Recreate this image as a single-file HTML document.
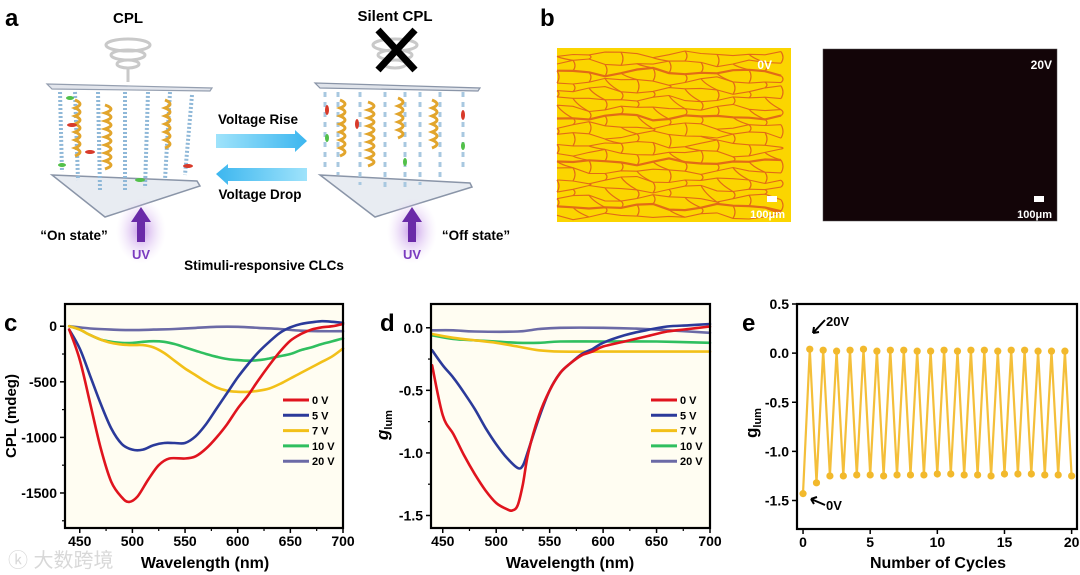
<!DOCTYPE html>
<html><head><meta charset="utf-8">
<style>
html,body{margin:0;padding:0;background:#fff;}
svg{display:block;font-family:"Liberation Sans","Noto Sans CJK SC",sans-serif;}
.b{font-weight:bold;}
</style></head>
<body>
<svg id="fig" width="1080" height="575" viewBox="0 0 1080 575" xmlns="http://www.w3.org/2000/svg">
<defs>
<radialGradient id="uvglow" cx="50%" cy="50%" r="50%">
<stop offset="0%" stop-color="#b57be0" stop-opacity="0.8"/>
<stop offset="100%" stop-color="#e9d6f7" stop-opacity="0"/>
</radialGradient>
<linearGradient id="arr" x1="0" x2="1"><stop offset="0" stop-color="#9fe3fb"/><stop offset="1" stop-color="#3cb6ef"/></linearGradient>
<linearGradient id="arr2" x1="1" x2="0"><stop offset="0" stop-color="#9fe3fb"/><stop offset="1" stop-color="#3cb6ef"/></linearGradient>
</defs>

<!-- Panel a -->
<g>
<text x="5" y="26" font-size="24" class="b">a</text>
<text x="128" y="23" font-size="15" class="b" text-anchor="middle">CPL</text>
<text x="395" y="21" font-size="15" class="b" text-anchor="middle">Silent CPL</text>
<g fill="none" stroke="#c9c9c9" stroke-width="3">
<ellipse cx="128" cy="45" rx="22" ry="6"/><ellipse cx="128" cy="55" rx="17" ry="5"/><ellipse cx="128" cy="64" rx="11" ry="4"/>
<path d="M128 68 L128 82"/>
<ellipse cx="395" cy="45" rx="22" ry="6"/><ellipse cx="395" cy="55" rx="17" ry="5"/><ellipse cx="395" cy="64" rx="11" ry="4"/>
</g>
<g stroke="#000" stroke-width="7">
<line x1="378" y1="30" x2="415" y2="70"/><line x1="415" y1="30" x2="378" y2="70"/>
</g>
<g>
<polygon points="52,175 197,181 200,186 105,217" fill="#e8ecf2" stroke="#8a95a8" stroke-width="1.5"/>
<g stroke="#8fb8d8" stroke-width="4" stroke-dasharray="2 2">
<line x1="60" y1="92" x2="62" y2="172"/><line x1="75" y1="92" x2="78" y2="180"/><line x1="98" y1="92" x2="100" y2="190"/>
<line x1="125" y1="92" x2="125" y2="192"/><line x1="148" y1="92" x2="145" y2="188"/><line x1="170" y1="92" x2="165" y2="180"/><line x1="192" y1="95" x2="185" y2="175"/>
</g>
<g stroke="#e2a52c" stroke-width="3" fill="none">
<path d="M75 100 q10 4 0 8 q10 4 0 8 q10 4 0 8 q10 4 0 8 q10 4 0 8 q10 4 0 8 q10 4 0 8"/>
<path d="M105 105 q12 4 0 8 q12 4 0 8 q12 4 0 8 q12 4 0 8 q12 4 0 8 q12 4 0 8 q12 4 0 8 q12 4 0 8"/>
<path d="M165 100 q10 4 0 8 q10 4 0 8 q10 4 0 8 q10 4 0 8 q10 4 0 8 q10 4 0 8"/>
</g>
<g fill="#d83a2a"><ellipse cx="72" cy="125" rx="5" ry="2"/><ellipse cx="90" cy="152" rx="5" ry="2"/><ellipse cx="188" cy="166" rx="5" ry="2"/></g>
<g fill="#52c04a"><ellipse cx="70" cy="98" rx="4" ry="2"/><ellipse cx="62" cy="165" rx="4" ry="2"/><ellipse cx="140" cy="180" rx="5" ry="2"/></g>
<polygon points="47,84 212,88 210,91 52,89" fill="#dfe3ea" stroke="#8a95a8" stroke-width="1.2" opacity="0.9"/>
</g>
<g>
<polygon points="320,175 470,183 472,187 375,217" fill="#e8ecf2" stroke="#8a95a8" stroke-width="1.5"/>
<g stroke="#a8c8e0" stroke-width="3" stroke-dasharray="5 5">
<line x1="325" y1="92" x2="325" y2="170"/><line x1="338" y1="92" x2="338" y2="175"/><line x1="360" y1="92" x2="360" y2="185"/>
<line x1="385" y1="92" x2="385" y2="190"/><line x1="405" y1="92" x2="405" y2="190"/><line x1="420" y1="92" x2="420" y2="185"/>
<line x1="440" y1="92" x2="440" y2="180"/><line x1="463" y1="92" x2="463" y2="172"/>
</g>
<g stroke="#e2a52c" stroke-width="3" fill="none">
<path d="M340 100 q10 4 0 8 q10 4 0 8 q10 4 0 8 q10 4 0 8 q10 4 0 8 q10 4 0 8 q10 4 0 8"/>
<path d="M368 102 q12 4 0 8 q12 4 0 8 q12 4 0 8 q12 4 0 8 q12 4 0 8 q12 4 0 8 q12 4 0 8 q12 4 0 8"/>
<path d="M398 98 q10 4 0 8 q10 4 0 8 q10 4 0 8 q10 4 0 8 q10 4 0 8"/>
<path d="M432 100 q10 4 0 8 q10 4 0 8 q10 4 0 8 q10 4 0 8 q10 4 0 8 q10 4 0 8"/>
</g>
<g fill="#d83a2a"><ellipse cx="327" cy="110" rx="2" ry="5"/><ellipse cx="357" cy="124" rx="2" ry="5"/><ellipse cx="463" cy="115" rx="2" ry="5"/></g>
<g fill="#52c04a"><ellipse cx="327" cy="138" rx="2" ry="4"/><ellipse cx="405" cy="162" rx="2" ry="4"/><ellipse cx="463" cy="146" rx="2" ry="4"/></g>
<polygon points="315,83 480,88 478,91 320,88" fill="#dfe3ea" stroke="#8a95a8" stroke-width="1.2"/>
</g>
<polygon points="216,134 295,134 295,130 307,141 295,152 295,148 216,148" fill="url(#arr)"/>
<polygon points="307,168 228,168 228,164 216,174 228,185 228,181 307,181" fill="url(#arr2)"/>
<text x="258" y="124" font-size="13.5" class="b" text-anchor="middle">Voltage Rise</text>
<text x="260" y="199" font-size="13.5" class="b" text-anchor="middle">Voltage Drop</text>
<rect x="116" y="198" width="50" height="66" fill="url(#uvglow)"/>
<rect x="387" y="198" width="50" height="66" fill="url(#uvglow)"/>
<polygon points="137,242 137,222 131,222 141,207 151,222 145,222 145,242" fill="#6a2aa8"/>
<polygon points="408,242 408,222 402,222 412,207 422,222 416,222 416,242" fill="#6a2aa8"/>
<text x="141" y="259" font-size="13" class="b" fill="#7a3bbf" text-anchor="middle">UV</text>
<text x="412" y="259" font-size="13" class="b" fill="#7a3bbf" text-anchor="middle">UV</text>
<text x="74" y="240" font-size="13.5" class="b" text-anchor="middle">“On state”</text>
<text x="476" y="240" font-size="13.5" class="b" text-anchor="middle">“Off state”</text>
<text x="264" y="270" font-size="13.5" class="b" text-anchor="middle">Stimuli-responsive CLCs</text>
</g>

<!-- Panel b -->
<g>
<text x="540" y="26" font-size="24" class="b">b</text>
<rect x="557" y="48" width="234" height="174" fill="#fbd500"/>
<g id="cracks" stroke="#e0601a" stroke-width="1.2" fill="none" opacity="0.9"></g>
<text x="772" y="69" font-size="12" class="b" fill="#fff" text-anchor="end">0V</text>
<rect x="767" y="196" width="10" height="6" fill="#fff"/>
<text x="785" y="218" font-size="11" class="b" fill="#fff" text-anchor="end">100μm</text>
<rect x="823" y="49" width="234" height="172" fill="#130508" stroke="#555" stroke-width="0.5"/>
<text x="1052" y="69" font-size="12" class="b" fill="#fff" text-anchor="end">20V</text>
<rect x="1034" y="196" width="10" height="6" fill="#fff"/>
<text x="1052" y="218" font-size="11" class="b" fill="#fff" text-anchor="end">100μm</text>
</g>

<g id="pc"></g>
<g id="pd"></g>
<g id="pe"></g>
<text x="8" y="567" font-size="20" fill="#d8d8d8">ⓚ 大数跨境</text>
</svg>

<script>
// ---- Panel c data (CPL, mdeg) ----
const cX0 = [440,450,460,470,480,490,497,505,515,525,535,550,560,570,580,590,600,610,620,630,640,650,660,670,680,690,700];
const cY0 = [-30,-300,-700,-1100,-1400,-1540,-1580,-1530,-1380,-1250,-1190,-1190,-1170,-1100,-1000,-880,-740,-620,-480,-350,-230,-130,-70,-30,-10,0,20];
const cX5 = [440,450,460,470,480,490,500,510,520,530,540,550,560,570,580,590,600,610,620,630,640,650,660,670,680,690,700];
const cY5 = [-30,-200,-450,-700,-920,-1060,-1110,-1110,-1070,-1050,-1050,-1050,-990,-880,-740,-600,-460,-340,-230,-140,-60,-10,20,35,45,40,30];
const cX7 = [440,450,460,470,480,490,500,510,520,530,540,550,560,570,580,590,600,610,620,630,640,650,660,670,680,690,700];
const cY7 = [0,-30,-80,-120,-150,-165,-170,-170,-190,-240,-310,-380,-440,-500,-550,-580,-590,-590,-580,-560,-520,-470,-420,-370,-320,-270,-200];
const cX10 = [440,450,460,470,480,490,500,510,520,530,540,550,560,570,580,590,600,610,620,630,640,650,660,670,680,690,700];
const cY10 = [0,-30,-80,-120,-140,-150,-150,-140,-135,-140,-160,-190,-220,-250,-275,-295,-305,-310,-305,-290,-270,-250,-215,-190,-160,-135,-110];
const cX20 = [440,460,480,500,520,540,560,580,600,620,640,660,680,700];
const cY20 = [0,-20,-30,-35,-30,-25,-15,-5,-5,-15,-25,-40,-45,-45];
// ---- Panel d data (g_lum) ----
const dX0 = [440,450,460,470,480,490,500,510,515,520,525,530,540,550,560,570,580,590,600,620,640,660,680,700];
const dY0 = [-0.30,-0.70,-0.85,-1.02,-1.17,-1.30,-1.40,-1.45,-1.46,-1.42,-1.25,-1.00,-0.70,-0.50,-0.36,-0.28,-0.22,-0.19,-0.15,-0.11,-0.07,-0.03,-0.01,0.01];
const dX5 = [440,450,460,470,480,490,500,510,520,525,530,540,550,560,570,580,590,600,620,640,660,680,700];
const dY5 = [-0.18,-0.30,-0.40,-0.52,-0.65,-0.80,-0.93,-1.04,-1.12,-1.10,-0.98,-0.72,-0.50,-0.36,-0.28,-0.21,-0.17,-0.12,-0.06,-0.02,0.01,0.02,0.03];
const dX7 = [440,460,480,500,520,540,560,600,650,700];
const dY7 = [-0.05,-0.08,-0.10,-0.12,-0.15,-0.18,-0.19,-0.19,-0.19,-0.19];
const dX10 = [440,460,480,500,520,540,560,600,650,700];
const dY10 = [-0.06,-0.09,-0.10,-0.11,-0.12,-0.12,-0.11,-0.11,-0.11,-0.12];
const dX20 = [440,460,480,520,540,560,600,640,680,700];
const dY20 = [-0.02,-0.02,-0.03,-0.03,-0.01,0.0,0.0,-0.01,-0.03,-0.04];
// ---- Panel e data ----
const eCycles = [0,0.5,1,1.5,2,2.5,3,3.5,4,4.5,5,5.5,6,6.5,7,7.5,8,8.5,9,9.5,10,10.5,11,11.5,12,12.5,13,13.5,14,14.5,15,15.5,16,16.5,17,17.5,18,18.5,19,19.5,20];
const eGlum = [-1.43,0.04,-1.32,0.03,-1.25,0.02,-1.25,0.03,-1.24,0.04,-1.24,0.02,-1.25,0.03,-1.24,0.03,-1.24,0.02,-1.24,0.02,-1.23,0.03,-1.23,0.02,-1.24,0.03,-1.24,0.03,-1.25,0.02,-1.23,0.03,-1.23,0.03,-1.23,0.02,-1.24,0.02,-1.24,0.02,-1.25];
const legendLabels = ["0 V","5 V","7 V","10 V","20 V"];
const cTicksY = [0,-500,-1000,-1500];
const dTicksY = [0.0,-0.5,-1.0,-1.5];
const eTicksY = [0.5,0.0,-0.5,-1.0,-1.5];
const wlTicks = [450,500,550,600,650,700];
const eTicksX = [0,5,10,15,20];

const NS="http://www.w3.org/2000/svg";
const colors=["#e0141e","#2b3a9a","#f2c018","#2fbf5f","#6b6aa6"];
function mk(parent,tag,attrs){const e=document.createElementNS(NS,tag);for(const k in attrs)e.setAttribute(k,attrs[k]);parent.appendChild(e);return e;}

function axes(g,box,xr,yr,xt,yt,fmtY,bg,minorY,minorX){
  const sx=v=>box.x+(v-xr[0])/(xr[1]-xr[0])*box.w;
  const sy=v=>box.y+(yr[1]-v)/(yr[1]-yr[0])*box.h;
  const r=mk(g,'rect',{x:box.x,y:box.y,width:box.w,height:box.h,fill:bg});
  
  
  xt.forEach(v=>{const X=sx(v);mk(g,'line',{x1:X,x2:X,y1:box.y+box.h,y2:box.y+box.h+5,stroke:'#000','stroke-width':1.5});
    const t=mk(g,'text',{x:X,y:box.y+box.h+18,'font-size':14,'font-weight':'bold','text-anchor':'middle'});t.textContent=v;
    
    });
  minorX.forEach(v=>{const X=sx(v);mk(g,'line',{x1:X,x2:X,y1:box.y+box.h,y2:box.y+box.h+3,stroke:'#000','stroke-width':1.2});});
  yt.forEach(v=>{const Y=sy(v);mk(g,'line',{x1:box.x-5,x2:box.x,y1:Y,y2:Y,stroke:'#000','stroke-width':1.5});
    const t=mk(g,'text',{x:box.x-8,y:Y+5,'font-size':14,'font-weight':'bold','text-anchor':'end'});t.textContent=fmtY(v);
    
    });
  minorY.forEach(v=>{const Y=sy(v);mk(g,'line',{x1:box.x-3,x2:box.x,y1:Y,y2:Y,stroke:'#000','stroke-width':1.2});});
  return {sx,sy};
}
function frame(g,box){const f=mk(g,'rect',{x:box.x,y:box.y,width:box.w,height:box.h,fill:'none',stroke:'#000','stroke-width':2.2});
  
  }
function smoothPath(P){
  let d='M'+P[0][0].toFixed(1)+' '+P[0][1].toFixed(1);
  for(let i=0;i<P.length-1;i++){
    const p0=P[Math.max(0,i-1)],p1=P[i],p2=P[i+1],p3=P[Math.min(P.length-1,i+2)];
    const c1=[p1[0]+(p2[0]-p0[0])/6,p1[1]+(p2[1]-p0[1])/6];
    const c2=[p2[0]-(p3[0]-p1[0])/6,p2[1]-(p3[1]-p1[1])/6];
    d+=' C'+c1[0].toFixed(1)+' '+c1[1].toFixed(1)+' '+c2[0].toFixed(1)+' '+c2[1].toFixed(1)+' '+p2[0].toFixed(1)+' '+p2[1].toFixed(1);
  }
  return d;
}
function line(g,sx,sy,xs,ys,col,w,name,smooth){
  const P=xs.map((x,i)=>[sx(x),sy(ys[i])]);
  const d=smooth?smoothPath(P):P.map((p,i)=>(i?'L':'M')+p[0].toFixed(1)+' '+p[1].toFixed(1)).join(' ');
  const p=mk(g,'path',{d:d,fill:'none',stroke:col,'stroke-width':w,'stroke-linejoin':'round','stroke-linecap':'round'});
  
  
}
function legend(g,x,y,dy){
  legendLabels.forEach((l,i)=>{mk(g,'line',{x1:x,x2:x+26,y1:y+i*dy,y2:y+i*dy,stroke:colors[i],'stroke-width':3});
    const t=mk(g,'text',{x:x+29,y:y+i*dy+4,'font-size':11,'font-weight':'bold'});t.textContent=l;
    
    });
}
function txt(g,x,y,s,size,extra,name){const t=mk(g,'text',Object.assign({x:x,y:y,'font-size':size,'font-weight':'bold'},extra||{}));t.textContent=s;
  
  return t;}

// Panel c
(function(){
 const g=document.getElementById('pc');
 const box={x:65,y:304,w:278,h:224};
 const a=axes(g,box,[436,700],[-1815,200],wlTicks,cTicksY,v=>v,'#fffdf2',[-250,-750,-1250,-1750],[475,525,575,625,675]);
 const xs=[cX0,cX5,cX7,cX10,cX20],ys=[cY0,cY5,cY7,cY10,cY20];
 [4,3,2,1,0].forEach(i=>line(g,a.sx,a.sy,xs[i],ys[i],colors[i],2.6,'series-'+legendLabels[i].replace(' ',''),true));
 frame(g,box);legend(g,283,400,15.3);
 txt(g,4,331,'c',24,{},'panel-label-c');
 txt(g,205,568,'Wavelength (nm)',16,{'text-anchor':'middle'},'x-axis-title');
 txt(g,16,416,'CPL (mdeg)',15,{'text-anchor':'middle',transform:'rotate(-90 16 416)'},'y-axis-title');
})();
// Panel d
(function(){
 const g=document.getElementById('pd');
 const box={x:431,y:304,w:279,h:224};
 const a=axes(g,box,[439,700],[-1.6,0.19],wlTicks,dTicksY,v=>v.toFixed(1),'#fffdf2',[-0.25,-0.75,-1.25],[475,525,575,625,675]);
 const xs=[dX0,dX5,dX7,dX10,dX20],ys=[dY0,dY5,dY7,dY10,dY20];
 [4,3,2,1,0].forEach(i=>line(g,a.sx,a.sy,xs[i],ys[i],colors[i],2.6,'series-'+legendLabels[i].replace(' ',''),true));
 frame(g,box);legend(g,651,400,15.3);
 txt(g,380,331,'d',24,{},'panel-label-d');
 txt(g,570,568,'Wavelength (nm)',16,{'text-anchor':'middle'},'x-axis-title');
 const t=txt(g,388,425,'g',17,{'font-style':'italic','text-anchor':'middle',transform:'rotate(-90 388 425)'},'y-axis-title');
 const s=mk(t,'tspan',{'font-size':11,'font-style':'normal',dy:4});s.textContent='lum';
})();
// Panel e
(function(){
 const g=document.getElementById('pe');
 const box={x:797,y:304,w:280,h:225};
 const a=axes(g,box,[-0.45,20.4],[-1.79,0.5],eTicksX,eTicksY,v=>v.toFixed(1),'#ffffff',[],[]);
 line(g,a.sx,a.sy,eCycles,eGlum,'#f4bf3a',2.2,'glum-cycle-line',false);
 eCycles.forEach((c,i)=>{const p=mk(g,'circle',{cx:a.sx(c),cy:a.sy(eGlum[i]),r:3.6,fill:'#f2b92c'});
   
   });
 frame(g,box);
 txt(g,742,331,'e',24,{},'panel-label-e');
 txt(g,938,568,'Number of Cycles',16,{'text-anchor':'middle'},'x-axis-title');
 const t=txt(g,757,423,'g',17,{'text-anchor':'middle',transform:'rotate(-90 757 423)'},'y-axis-title');
 const s=mk(t,'tspan',{'font-size':11,dy:4});s.textContent='lum';
 txt(g,826,326,'20V',13,{},'annotation-20v');
 mk(g,'path',{d:'M825 320 L813 333 M813 333 l1 -6 M813 333 l6 -1',stroke:'#000','stroke-width':2,fill:'none'});
 txt(g,826,510,'0V',13,{},'annotation-0v');
 mk(g,'path',{d:'M825 505 L811 499 M811 499 l6 -2 M811 499 l3 5',stroke:'#000','stroke-width':2,fill:'none'});
})();
// micrograph crack pattern (decorative texture): irregular cell network
(function(){
 const g=document.getElementById('cracks');
 const rows=[];for(let y=54;y<222;y+=9)rows.push(y);
 const pts=rows.map((y,i)=>{const r=[];for(let x=557;x<=795;x+=16){r.push([x,y+Math.sin(x*0.07+i*1.7)*2.5+((x*13+i*29)%7-3)*0.6]);}return r;});
 pts.forEach((r,i)=>{mk(g,'path',{d:r.map((p,j)=>(j?'L':'M')+p[0].toFixed(1)+' '+p[1].toFixed(1)).join(' '),'stroke-width':(i%5===2?2.2:1.1)});});
 for(let i=0;i<pts.length-1;i++){for(let j=(i%2);j<pts[i].length;j+=2){
   const p=pts[i][j],q=pts[i+1][Math.min(pts[i+1].length-1,j+((i+j)%3===0?1:0))];
   mk(g,'path',{d:'M'+p[0].toFixed(1)+' '+p[1].toFixed(1)+' Q'+(p[0]+4)+' '+((p[1]+q[1])/2)+' '+q[0].toFixed(1)+' '+q[1].toFixed(1)});}}
})();
</script>
</body></html>
